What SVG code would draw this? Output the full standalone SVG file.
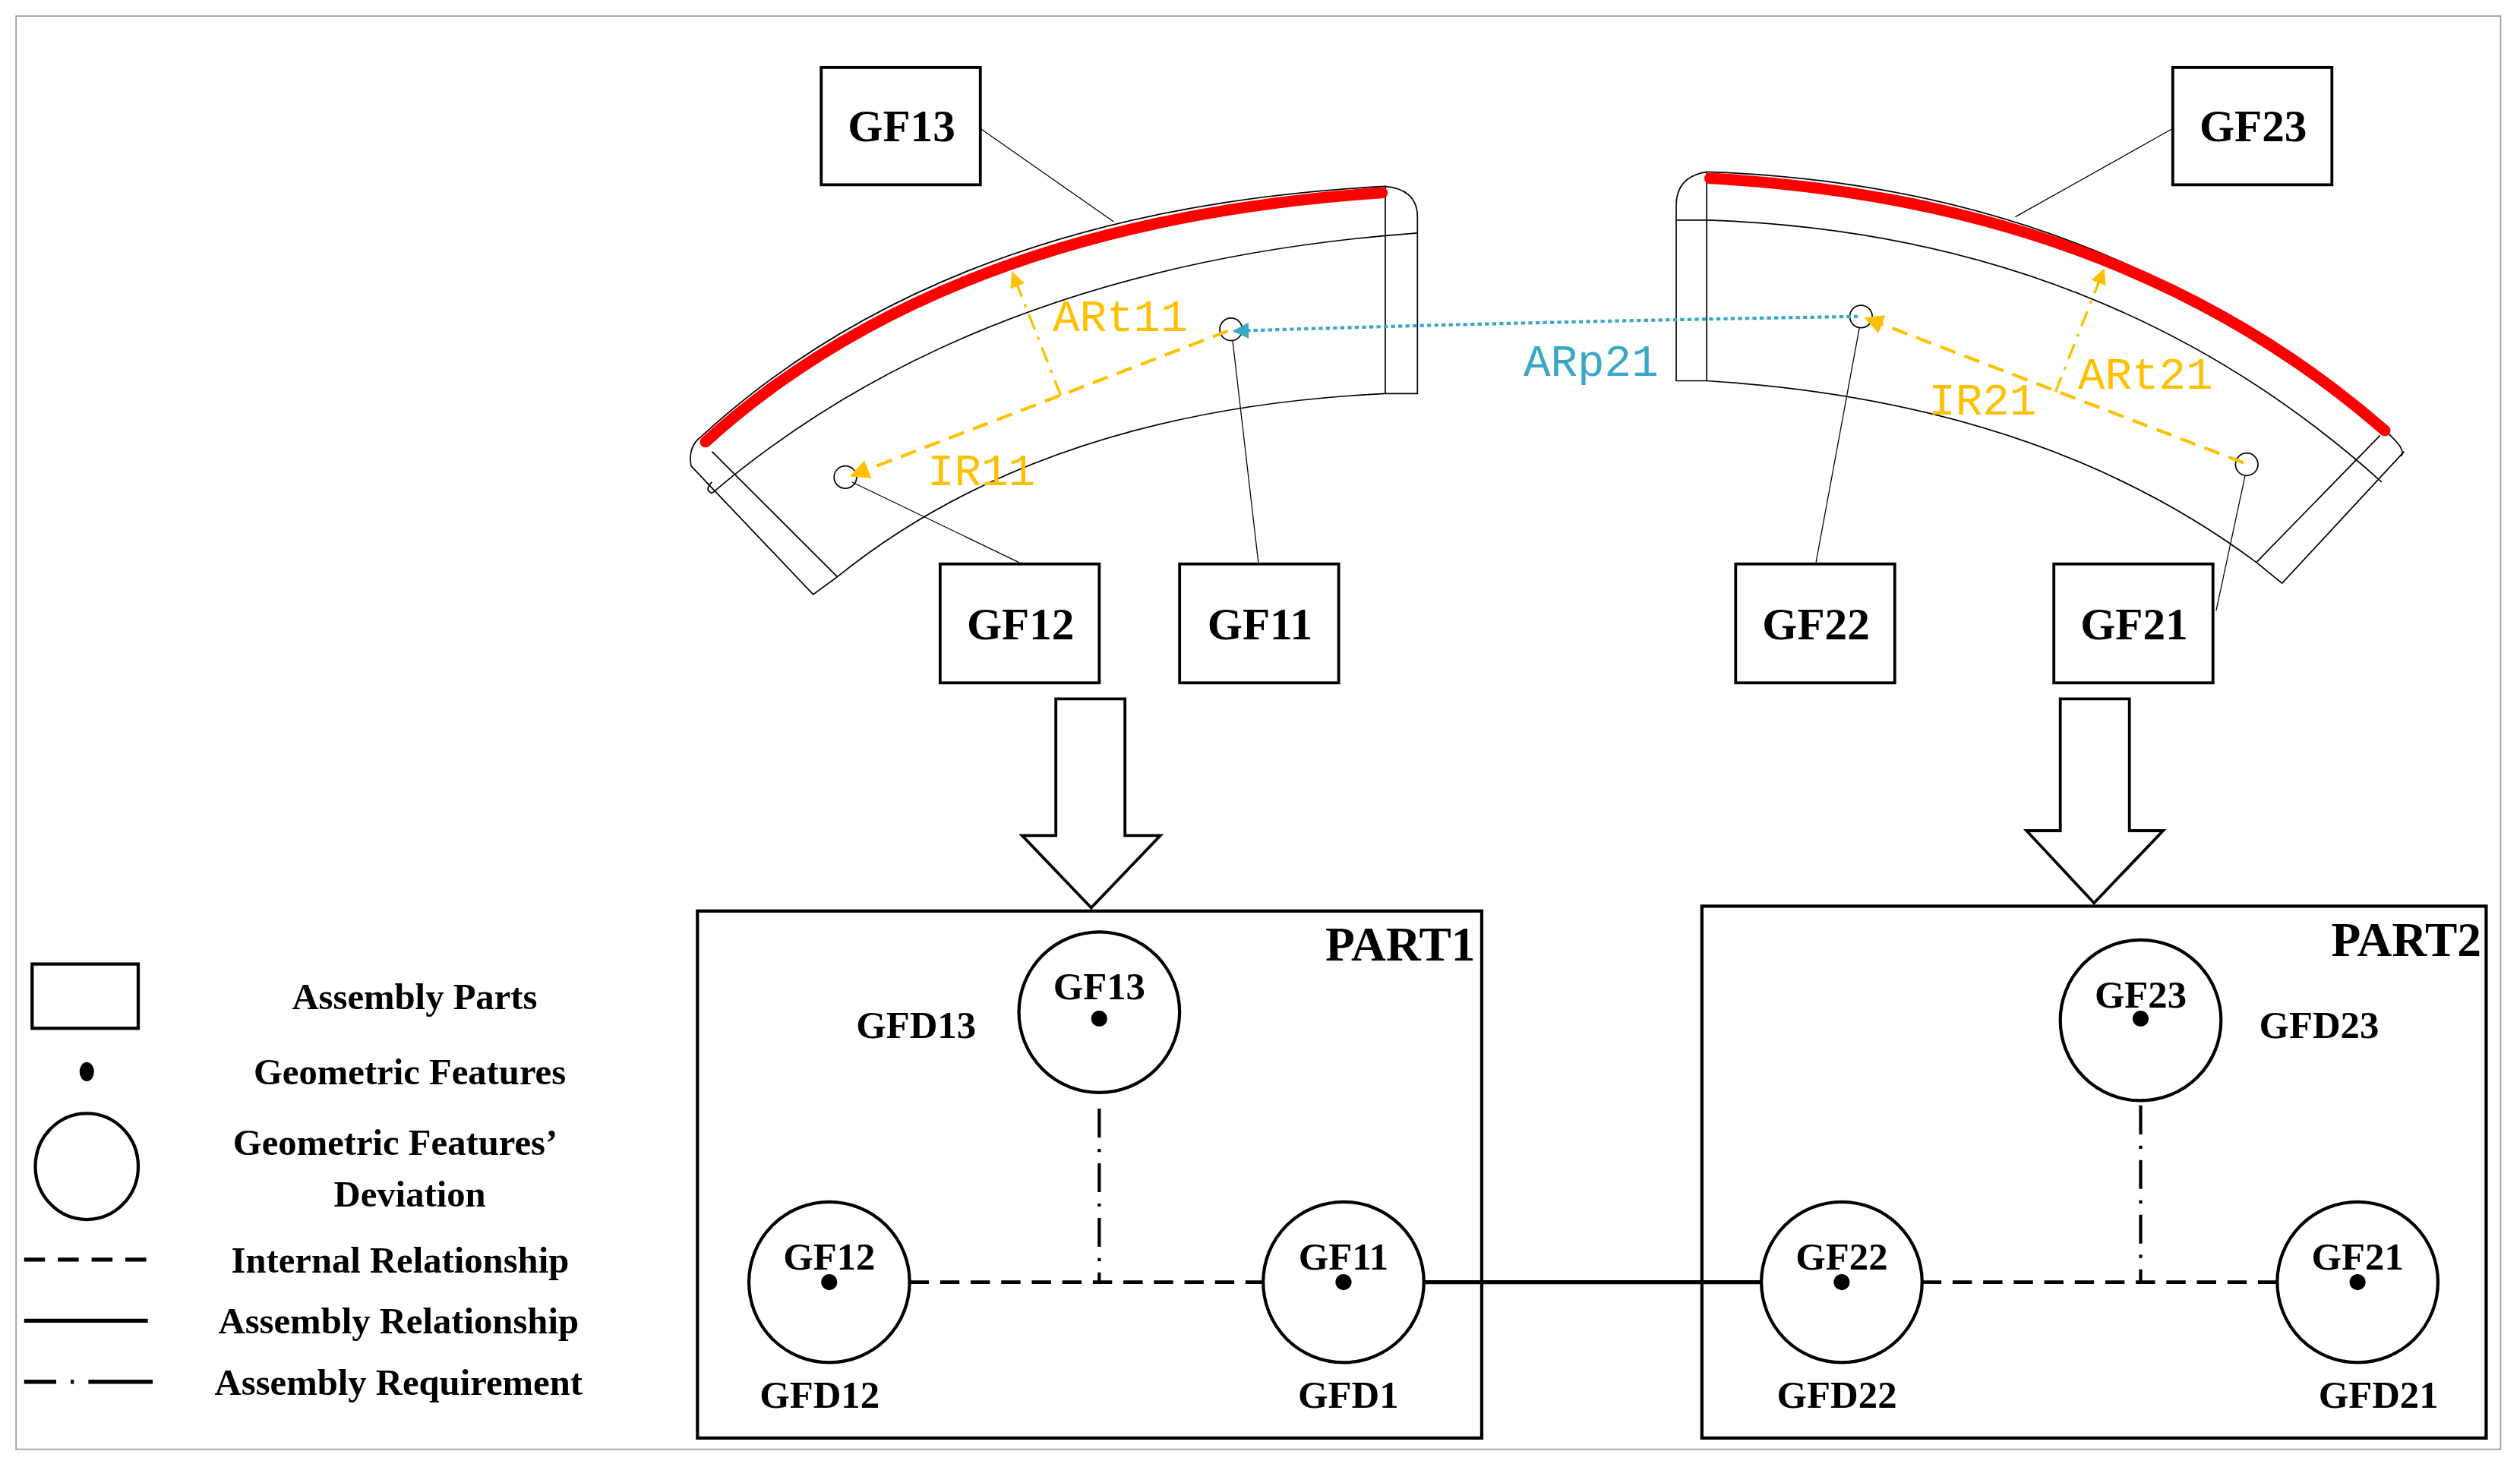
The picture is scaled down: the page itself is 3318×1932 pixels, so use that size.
<svg xmlns="http://www.w3.org/2000/svg" width="3318" height="1932" viewBox="0 0 3318 1932">
<defs>
<style>
.bx{fill:#fff;stroke:#000;stroke-width:1.8}
.bt{font-family:"Liberation Serif",serif;font-weight:bold;font-size:28px;text-anchor:middle}
.ct{font-family:"Liberation Serif",serif;font-weight:bold;font-size:24px;text-anchor:middle}
.lg{font-family:"Liberation Serif",serif;font-weight:bold;font-size:23px;text-anchor:middle}
.ot{font-family:"Liberation Mono",monospace;font-size:28px;fill:#ffc000}
.thin{fill:none;stroke:#000;stroke-width:0.8}
.ld{fill:none;stroke:#000;stroke-width:0.6}
.red{fill:none;stroke:#f00;stroke-width:7;stroke-linecap:round}
.nd{fill:#fff;stroke:#000;stroke-width:2}
.or{fill:none;stroke:#ffc000;stroke-width:2;stroke-dasharray:10,6}
.ordd{fill:none;stroke:#ffc000;stroke-width:1.6;stroke-dasharray:10,5,2,5}
</style>
<marker id="oa" viewBox="0 0 10 10" refX="9" refY="5" markerWidth="6" markerHeight="6" orient="auto"><path d="M0,0L10,5L0,10z" fill="#ffc000"/></marker>
<marker id="ba" viewBox="0 0 10 10" refX="9" refY="5" markerWidth="5" markerHeight="5" orient="auto"><path d="M0,0L10,5L0,10z" fill="#3aa6c8"/></marker>
</defs>
<g transform="scale(2.116)">
<rect x="10" y="10" width="1546" height="892" fill="#fff" stroke="#999" stroke-width="0.8"/>

<g id="part1-shape">
<path class="thin" d="M436,272 Q590,130 862,116 Q882,118 882,135 L882,245 L862,245"/>
<path class="thin" d="M862,116 L862,245"/>
<path class="thin" d="M443,307 Q610,165 882,145"/>
<path class="thin" d="M430,290 Q428,278 436,272 M443,300 Q438,305 443,307"/>
<path class="thin" d="M521,359 Q650,255 862,245"/>
<path class="thin" d="M443,281 L521,359 M430,290 L506,370 L521,359"/>
<circle class="thin" cx="526" cy="297" r="7"/>
<circle class="thin" cx="766" cy="205" r="7"/>
<path class="red" d="M439,275 Q590,138 860,120"/>
</g>
<g id="part2-shape">
<path class="thin" d="M1062,107 Q1310,115 1484,268 Q1498,280 1494,284"/>
<path class="thin" d="M1062,107 Q1043,110 1043,128 L1043,237 L1062,237 L1062,107"/>
<path class="thin" d="M1043,137 L1062,137 Q1310,145 1482,300"/>
<path class="thin" d="M1062,237 Q1270,250 1404,350"/>
<path class="thin" d="M1481,271 L1404,350 M1496,281 L1420,363 L1404,350"/>
<circle class="thin" cx="1158" cy="197" r="7"/>
<circle class="thin" cx="1398" cy="289" r="7"/>
<path class="red" d="M1064,111 Q1320,125 1484,268"/>
</g>

<g id="leaders">
<line class="ld" x1="610" y1="80" x2="693" y2="138"/>
<line class="ld" x1="634" y1="350" x2="530" y2="300"/>
<line class="ld" x1="783" y1="350" x2="767" y2="212"/>
<line class="ld" x1="1130" y1="350" x2="1157" y2="204"/>
<line class="ld" x1="1379" y1="380" x2="1397" y2="296"/>
<line class="ld" x1="1352" y1="80" x2="1254" y2="135"/>
</g>

<g id="annotations">
<line class="or" x1="764" y1="206" x2="530" y2="296" marker-end="url(#oa)"/>
<line class="ordd" x1="660" y1="246" x2="630" y2="170" marker-end="url(#oa)"/>
<line class="or" x1="1396" y1="288" x2="1161" y2="198" marker-end="url(#oa)"/>
<line class="ordd" x1="1279" y1="244" x2="1309" y2="168" marker-end="url(#oa)"/>
<path d="M1156,197 Q960,200 768,206" fill="none" stroke="#3aa6c8" stroke-width="2" stroke-dasharray="2.5,2" marker-end="url(#ba)"/>
<text class="ot" x="655" y="206">ARt11</text>
<text class="ot" x="577" y="302">IR11</text>
<text class="ot" x="1293" y="242">ARt21</text>
<text class="ot" x="1200" y="258">IR21</text>
<text class="ot" x="948" y="234" style="fill:#3aa6c8">ARp21</text>
</g>

<g id="GF13-box"><rect class="bx" x="511" y="42" width="99" height="73"/><text class="bt" x="561" y="88">GF13</text></g>
<g id="GF12-box"><rect class="bx" x="585" y="351" width="99" height="74"/><text class="bt" x="635" y="398">GF12</text></g>
<g id="GF11-box"><rect class="bx" x="734" y="351" width="99" height="74"/><text class="bt" x="784" y="398">GF11</text></g>
<g id="GF22-box"><rect class="bx" x="1080" y="351" width="99" height="74"/><text class="bt" x="1130" y="398">GF22</text></g>
<g id="GF21-box"><rect class="bx" x="1278" y="351" width="99" height="74"/><text class="bt" x="1328" y="398">GF21</text></g>
<g id="GF23-box"><rect class="bx" x="1352" y="42" width="99" height="73"/><text class="bt" x="1402" y="88">GF23</text></g>

<g id="arrow-left"><path d="M657,435 H700 V520 H722 L679,565 L636,520 H657 Z" fill="#fff" stroke="#000" stroke-width="1.8"/></g>
<g id="arrow-right"><path d="M1282,435 H1325 V517 H1346 L1303,562 L1261,517 H1282 Z" fill="#fff" stroke="#000" stroke-width="1.8"/></g>

<g id="PART1"><rect x="434" y="567" width="488" height="328" fill="none" stroke="#000" stroke-width="2"/><text class="bt" x="918" y="598" style="text-anchor:end;font-size:30px">PART1</text></g>
<g id="PART2"><rect x="1059" y="564" width="488" height="331" fill="none" stroke="#000" stroke-width="2"/><text class="bt" x="1544" y="595" style="text-anchor:end;font-size:30px">PART2</text></g>

<g id="connectors">
<line x1="566" y1="798" x2="786" y2="798" stroke="#000" stroke-width="2.2" stroke-dasharray="12,7"/>
<line x1="1196" y1="798" x2="1418" y2="798" stroke="#000" stroke-width="2.2" stroke-dasharray="12,7"/>
<line x1="684" y1="690" x2="684" y2="798" stroke="#000" stroke-width="2" stroke-dasharray="18,7,2,7"/>
<line x1="1332" y1="688" x2="1332" y2="798" stroke="#000" stroke-width="2" stroke-dasharray="18,7,2,7"/>
<line x1="886" y1="798" x2="1096" y2="798" stroke="#000" stroke-width="2.5"/>
</g>

<g id="GFD13"><circle class="nd" cx="684" cy="630" r="50"/><circle cx="684" cy="634" r="5"/><text class="ct" x="684" y="622">GF13</text><text class="ct" x="570" y="646">GFD13</text></g>
<g id="GFD12"><circle class="nd" cx="516" cy="798" r="50"/><circle cx="516" cy="798" r="5"/><text class="ct" x="516" y="790">GF12</text><text class="ct" x="510" y="876">GFD12</text></g>
<g id="GFD1"><circle class="nd" cx="836" cy="798" r="50"/><circle cx="836" cy="798" r="5"/><text class="ct" x="836" y="790">GF11</text><text class="ct" x="839" y="876">GFD1</text></g>
<g id="GFD23"><circle class="nd" cx="1332" cy="635" r="50"/><circle cx="1332" cy="634" r="5"/><text class="ct" x="1332" y="627">GF23</text><text class="ct" x="1443" y="646">GFD23</text></g>
<g id="GFD22"><circle class="nd" cx="1146" cy="798" r="50"/><circle cx="1146" cy="798" r="5"/><text class="ct" x="1146" y="790">GF22</text><text class="ct" x="1143" y="876">GFD22</text></g>
<g id="GFD21"><circle class="nd" cx="1467" cy="798" r="50"/><circle cx="1467" cy="798" r="5"/><text class="ct" x="1467" y="790">GF21</text><text class="ct" x="1480" y="876">GFD21</text></g>

<g id="legend">
<rect x="20" y="600" width="66" height="40" fill="#fff" stroke="#000" stroke-width="2"/>
<ellipse cx="54" cy="667" rx="4.5" ry="6"/>
<ellipse cx="54" cy="726" rx="32" ry="33" fill="#fff" stroke="#000" stroke-width="2"/>
<line x1="15" y1="784" x2="92" y2="784" stroke="#000" stroke-width="2.5" stroke-dasharray="13,8"/>
<line x1="15" y1="822" x2="92" y2="822" stroke="#000" stroke-width="2.5"/>
<line x1="15" y1="860" x2="95" y2="860" stroke="#000" stroke-width="2.5" stroke-dasharray="20,9,2,9,40"/>
<text class="lg" x="258" y="628">Assembly Parts</text>
<text class="lg" x="255" y="675">Geometric Features</text>
<text class="lg" x="246" y="719">Geometric Features’</text>
<text class="lg" x="255" y="751">Deviation</text>
<text class="lg" x="249" y="792">Internal Relationship</text>
<text class="lg" x="248" y="830">Assembly Relationship</text>
<text class="lg" x="248" y="868">Assembly Requirement</text>
</g>
</g>
</svg>
